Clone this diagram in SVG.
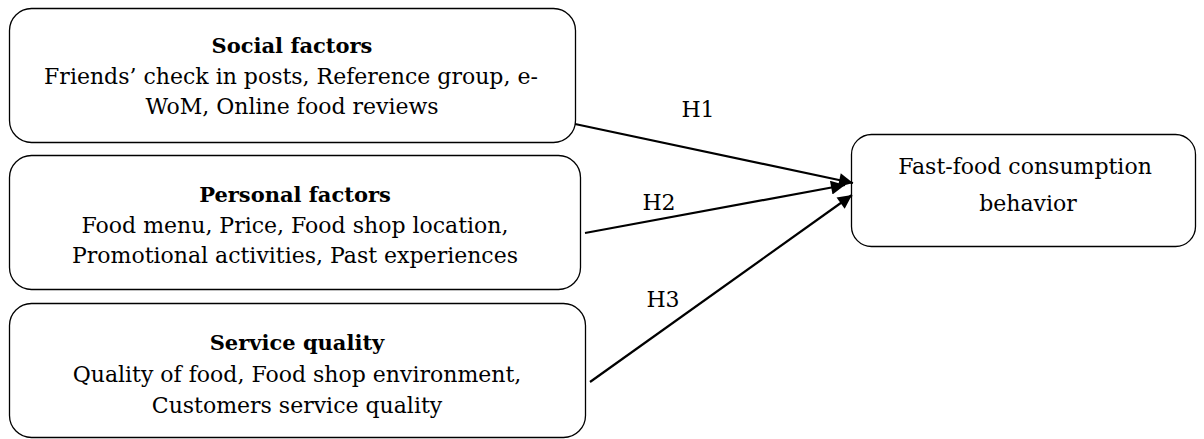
<svg xmlns="http://www.w3.org/2000/svg" width="1204" height="439" viewBox="0 0 1204 439">
<style>
.box{fill:#fff;stroke:#000;stroke-width:1.3}
.t{font-family:"DejaVu Serif","Liberation Serif",serif;font-size:22px;fill:#000;text-anchor:middle}
.b{font-weight:bold;font-size:21px}
.c{stroke:#000;stroke-width:2.2;fill:none;marker-end:url(#ah)}
</style>
<defs>
<marker id="ah" viewBox="0 0 10 10" refX="10" refY="5" markerWidth="18" markerHeight="14" markerUnits="userSpaceOnUse" orient="auto">
<path d="M0,0 L10,5 L0,10 Z" fill="#000"/>
</marker>
</defs>
<rect width="1204" height="439" fill="#fff"/>
<g id="social">
<rect class="box" x="9.5" y="8.5" width="566" height="134" rx="22"/>
<text class="t b" x="292" y="53">Social factors</text>
<text class="t" x="291" y="84">Friends’ check in posts, Reference group, e-</text>
<text class="t" x="292" y="114">WoM, Online food reviews</text>
</g>
<g id="personal">
<rect class="box" x="9.5" y="155.5" width="571" height="134" rx="22"/>
<text class="t b" x="295" y="202">Personal factors</text>
<text class="t" x="295" y="233">Food menu, Price, Food shop location,</text>
<text class="t" x="295" y="263">Promotional activities, Past experiences</text>
</g>
<g id="service">
<rect class="box" x="9.5" y="303.5" width="576" height="134" rx="22"/>
<text class="t b" x="297" y="350">Service quality</text>
<text class="t" x="297" y="382">Quality of food, Food shop environment,</text>
<text class="t" x="297" y="413">Customers service quality</text>
</g>
<g id="behavior">
<rect class="box" x="851.5" y="134.5" width="344" height="112" rx="20"/>
<text class="t" x="1025" y="174">Fast-food consumption</text>
<text class="t" x="1028" y="211">behavior</text>
</g>
<g id="connectors">
<line class="c" x1="575" y1="124" x2="853" y2="183"/>
<line class="c" x1="585" y1="233" x2="845" y2="185"/>
<line class="c" x1="590" y1="382" x2="852" y2="195"/>
<text class="t" x="698" y="117">H1</text>
<text class="t" x="659" y="210">H2</text>
<text class="t" x="663" y="307">H3</text>
</g>
</svg>
